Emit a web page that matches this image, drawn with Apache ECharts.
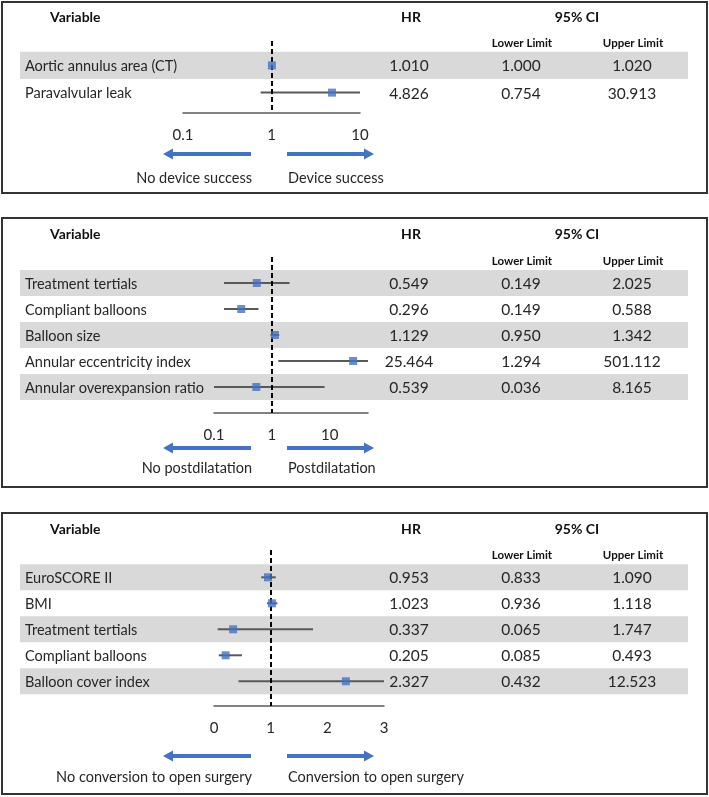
<!DOCTYPE html>
<html><head><meta charset="utf-8">
<script src="https://cdn.jsdelivr.net/npm/echarts@6/dist/echarts.min.js"></script>
<style>html,body{margin:0;padding:0;background:#fff}#c{width:709px;height:797px}</style>
</head><body><div id="c"></div>
<script>
// ---- Data ----
const p1Variables = ['Aortic annulus area (CT)', 'Paravalvular leak'];
const p1HR = [1.010, 4.826];
const p1Lower = [1.000, 0.754];
const p1Upper = [1.020, 30.913];
const p1Ticks = [0.1, 1, 10];
const p1Arrows = ['No device success', 'Device success'];

const p2Variables = ['Treatment tertials', 'Compliant balloons', 'Balloon size', 'Annular eccentricity index', 'Annular overexpansion ratio'];
const p2HR = [0.549, 0.296, 1.129, 25.464, 0.539];
const p2Lower = [0.149, 0.149, 0.950, 1.294, 0.036];
const p2Upper = [2.025, 0.588, 1.342, 501.112, 8.165];
const p2Ticks = [0.1, 1, 10];
const p2Arrows = ['No postdilatation', 'Postdilatation'];

const p3Variables = ['EuroSCORE II', 'BMI', 'Treatment tertials', 'Compliant balloons', 'Balloon cover index'];
const p3HR = [0.953, 1.023, 0.337, 0.205, 2.327];
const p3Lower = [0.833, 0.936, 0.065, 0.085, 0.432];
const p3Upper = [1.090, 1.118, 1.747, 0.493, 12.523];
const p3Ticks = [0, 1, 2, 3];
const p3Arrows = ['No conversion to open surgery', 'Conversion to open surgery'];

const headers = ['Variable', 'HR', '95% CI'];
const subHeaders = ['Lower Limit', 'Upper Limit'];

// ---- Layout ----
const FONT = 'Lato, "Open Sans", sans-serif';
const TXT = '#262626';
const BLUE = '#4472C4';
const panels = [
  {vars: p1Variables, hr: p1HR, lo: p1Lower, hi: p1Upper, ticks: p1Ticks, arrows: p1Arrows,
   box: [2, 193], headY: 17, subY: 43, top: 41, bottom: 113, yMin: -0.9, yMax: 1.75,
   type: 'log', xMin: 0.1, xMax: 10, left: 183, right: 360, arrowY: 154, textY: 178},
  {vars: p2Variables, hr: p2HR, lo: p2Lower, hi: p2Upper, ticks: p2Ticks, arrows: p2Arrows,
   box: [218, 487], headY: 234, subY: 261, top: 257, bottom: 413, yMin: -1, yMax: 5,
   type: 'log', xMin: 0.1, xMax: 46, left: 214, right: 368, arrowY: 448, textY: 468},
  {vars: p3Variables, hr: p3HR, lo: p3Lower, hi: p3Upper, ticks: p3Ticks, arrows: p3Arrows,
   box: [513, 794], headY: 529, subY: 555, top: 550, bottom: 706, yMin: -1.05, yMax: 4.95,
   type: 'value', xMin: 0, xMax: 3, left: 214, right: 384, arrowY: 756, textY: 777}
];
const BAND_L = 20, BAND_W = 668;
const COL_LABEL = 5, COL_HR = 389, COL_LO = 501, COL_HI = 612;

const grid = [], xAxis = [], yAxis = [], series = [], elements = [];

panels.forEach((p, k) => {
  const H = p.bottom - p.top;
  // band/table grid
  grid.push({left: BAND_L, top: p.top, width: BAND_W, height: H});
  xAxis.push({gridIndex: 2 * k, type: 'value', min: 0, max: BAND_W, show: false});
  yAxis.push({gridIndex: 2 * k, type: 'value', inverse: true, min: p.yMin, max: p.yMax, show: false});
  // plot grid
  grid.push({left: p.left, top: p.top, width: p.right - p.left, height: H});
  const xa = {
    gridIndex: 2 * k + 1, type: p.type, min: p.xMin, max: p.xMax, position: 'bottom',
    axisLine: {show: true, onZero: false, lineStyle: {color: '#595959', width: 1.5}},
    axisTick: {show: false}, splitLine: {show: false},
    axisLabel: {
      margin: 15, color: TXT, fontSize: 15, fontFamily: FONT,
      formatter: v => { const t = p.ticks.find(t => Math.abs(v - t) <= 1e-6 * Math.max(1, Math.abs(t))); return t === undefined ? '' : String(t); }
    }
  };
  if (p.type === 'log') xa.logBase = 10; else xa.interval = 1;
  xAxis.push(xa);
  yAxis.push({gridIndex: 2 * k + 1, type: 'value', inverse: true, min: p.yMin, max: p.yMax, show: false});

  // table series (bands + text)
  series.push({
    type: 'custom', xAxisIndex: 2 * k, yAxisIndex: 2 * k, z: 1, silent: true,
    data: p.vars.map((v, i) => [i, p.hr[i], p.lo[i], p.hi[i]]),
    encode: {x: -1, y: 0},
    renderItem: (params, api) => {
      const i = api.value(0);
      const a = api.coord([0, i - 0.5]);
      const b = api.coord([BAND_W, i + 0.5]);
      const c = api.coord([0, i]);
      const ch = [];
      if (i % 2 === 0) ch.push({type: 'rect', shape: {x: a[0], y: a[1], width: b[0] - a[0], height: b[1] - a[1]}, style: {fill: '#D9D9D9'}});
      const mk = (col, str, align, size) => ({type: 'text', style: {text: str, x: api.coord([col, i])[0], y: c[1] + 1, fill: TXT, font: size + 'px ' + FONT, align: align, verticalAlign: 'middle'}});
      ch.push(mk(COL_LABEL, p.vars[i], 'left', 14.5));
      ch.push(mk(COL_HR, api.value(1).toFixed(3), 'center', 15.5));
      ch.push(mk(COL_LO, api.value(2).toFixed(3), 'center', 15.5));
      ch.push(mk(COL_HI, api.value(3).toFixed(3), 'center', 15.5));
      return {type: 'group', children: ch};
    }
  });
  // whiskers
  series.push({
    type: 'custom', xAxisIndex: 2 * k + 1, yAxisIndex: 2 * k + 1, z: 3, silent: true,
    data: p.vars.map((v, i) => [p.lo[i], p.hi[i], i]),
    encode: {x: [0, 1], y: 2},
    renderItem: (params, api) => {
      const clamp = v => Math.min(p.xMax, Math.max(p.xMin, v));
      const s = api.coord([clamp(api.value(0)), api.value(2)]);
      const e = api.coord([clamp(api.value(1)), api.value(2)]);
      return {type: 'line', shape: {x1: s[0], y1: s[1], x2: e[0], y2: e[1]}, style: {stroke: '#595959', lineWidth: 2}};
    }
  });
  // HR markers + reference line
  series.push({
    type: 'scatter', xAxisIndex: 2 * k + 1, yAxisIndex: 2 * k + 1, z: 5, silent: true,
    symbol: 'rect', symbolSize: 8, itemStyle: {color: BLUE},
    data: p.hr.map((v, i) => [v, i]),
    markLine: {
      silent: true, symbol: 'none', label: {show: false}, animation: false, z: 4,
      lineStyle: {color: '#000', width: 2, type: [5, 3]},
      data: [{xAxis: 1}]
    }
  });

  // border
  elements.push({type: 'rect', shape: {x: 2, y: p.box[0], width: 705, height: p.box[1] - p.box[0]}, style: {fill: 'none', stroke: '#333', lineWidth: 2}, z: 10});
  // headers
  elements.push({type: 'text', style: {text: headers[0], x: 50, y: p.headY, fill: '#111', font: 'bold 14px ' + FONT, align: 'left', verticalAlign: 'middle'}});
  elements.push({type: 'text', style: {text: headers[1], x: 411, y: p.headY, fill: '#111', font: 'bold 14px ' + FONT, align: 'center', verticalAlign: 'middle'}});
  elements.push({type: 'text', style: {text: headers[2], x: 577, y: p.headY, fill: '#111', font: 'bold 14px ' + FONT, align: 'center', verticalAlign: 'middle'}});
  elements.push({type: 'text', style: {text: subHeaders[0], x: 522, y: p.subY, fill: '#111', font: 'bold 11.5px ' + FONT, align: 'center', verticalAlign: 'middle'}});
  elements.push({type: 'text', style: {text: subHeaders[1], x: 633, y: p.subY, fill: '#111', font: 'bold 11.5px ' + FONT, align: 'center', verticalAlign: 'middle'}});
  // arrows
  const y = p.arrowY;
  elements.push({type: 'line', shape: {x1: 251, y1: y, x2: 171, y2: y}, style: {stroke: BLUE, lineWidth: 4}});
  elements.push({type: 'polygon', shape: {points: [[163, y], [173, y - 5.5], [173, y + 5.5]]}, style: {fill: BLUE}});
  elements.push({type: 'line', shape: {x1: 287, y1: y, x2: 366, y2: y}, style: {stroke: BLUE, lineWidth: 4}});
  elements.push({type: 'polygon', shape: {points: [[374, y], [364, y - 5.5], [364, y + 5.5]]}, style: {fill: BLUE}});
  elements.push({type: 'text', style: {text: p.arrows[0], x: 252, y: p.textY, fill: TXT, font: '14.5px ' + FONT, align: 'right', verticalAlign: 'middle'}});
  elements.push({type: 'text', style: {text: p.arrows[1], x: 288, y: p.textY, fill: TXT, font: '14.5px ' + FONT, align: 'left', verticalAlign: 'middle'}});
});

const chart = echarts.init(document.getElementById('c'), null, {renderer: 'canvas'});
chart.setOption({
  animation: false,
  backgroundColor: '#fff',
  grid, xAxis, yAxis, series,
  graphic: {elements}
});
</script>
</body></html>
